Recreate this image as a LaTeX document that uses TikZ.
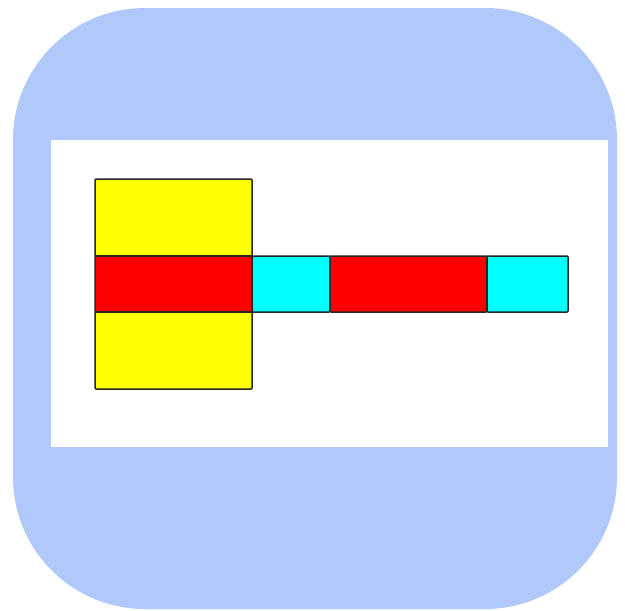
\documentclass[tikz,border=0pt]{standalone}
\definecolor{bgblue}{RGB}{176,200,250}
\definecolor{myyellow}{RGB}{255,255,0}
\definecolor{myred}{RGB}{255,0,0}
\definecolor{mycyan}{RGB}{0,255,255}
\begin{document}
\begin{tikzpicture}[x=1pt,y=-1pt,
  cell/.style={draw=black!85,line width=1.5pt,rounded corners=1pt,line join=round}]
\useasboundingbox (0,0) rectangle (625,611);
\fill[white] (0,0) rectangle (625,611);
\fill[bgblue,rounded corners=132pt] (13,8) rectangle (617,609);
\fill[white] (51,140) rectangle (608,447);
% yellow block
\fill[myyellow] (95,179) rectangle (252,389);
\fill[myred] (95,256) rectangle (252,312);
\draw[cell] (95,179) rectangle (252,389);
\draw[cell,rounded corners=0pt] (95,256) -- (252,256);
\draw[cell,rounded corners=0pt] (95,312) -- (252,312);
% strip
\draw[cell,fill=mycyan] (252,256) rectangle (330,312);
\draw[cell,fill=myred] (330,256) rectangle (487,312);
\draw[cell,fill=mycyan] (487,256) rectangle (568,312);
\end{tikzpicture}
\end{document}
